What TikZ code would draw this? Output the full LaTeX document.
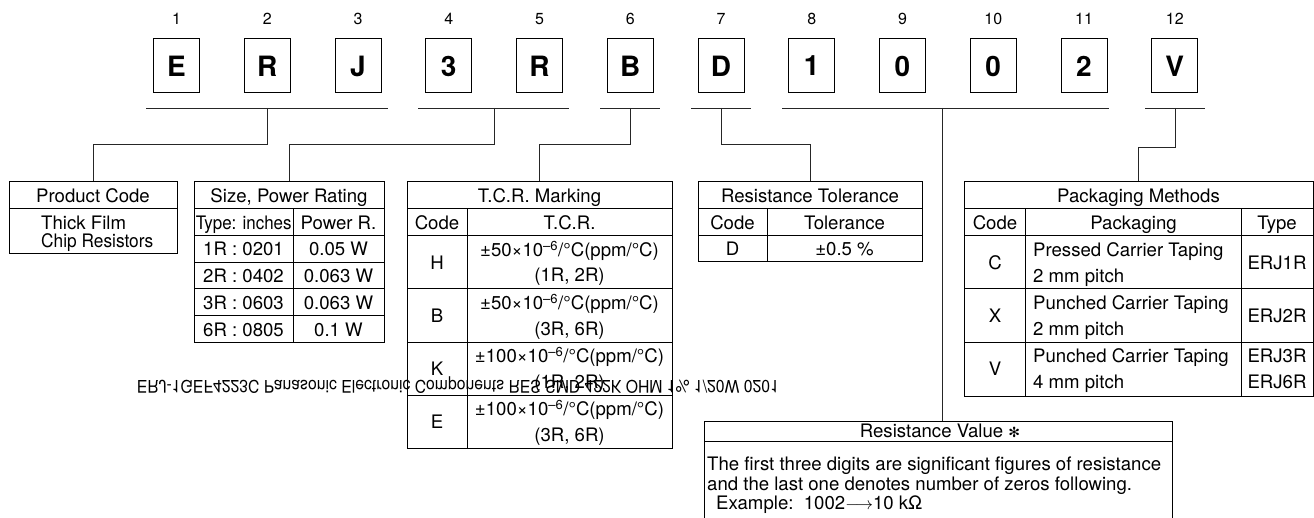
\documentclass[tikz,border=0pt]{standalone}
\usepackage{fontspec}
\setmainfont{TeX Gyre Heros}
\newfontfamily\symfont{DejaVu Sans}
\begin{document}
\begin{tikzpicture}[x=1pt,y=-1pt,
  num/.style={font=\fontsize{16}{18}\selectfont, inner sep=0pt},
  digit/.style={draw, line width=1pt, minimum width=46pt, minimum height=54pt, inner sep=0pt, font=\fontsize{28}{30}\selectfont\bfseries},
  conn/.style={line width=0.8pt, draw=black!85},
  frame/.style={draw, line width=1pt, inner sep=0pt},
  tline/.style={line width=1pt},
  cell/.style={font=\fontsize{18.6}{20}\selectfont, inner sep=0pt, text height=13.3pt, text depth=0pt},
  lcell/.style={cell, anchor=west},
  mirror/.style={font=\fontsize{17}{20}\selectfont, inner sep=0pt}
]
\useasboundingbox (0,0) rectangle (1314,518);
\clip (0,0) rectangle (1314,518);

% code letters
\foreach \i/\c in {1/E,2/R,3/J,4/3,5/R,6/B,7/D,8/1,9/0,10/0,11/2,12/V} {
  \node[num] (n\i) at ({176.5+90.75*(\i-1)},19) {\i};
  \node[digit] (d\i) at ({176.5+90.75*(\i-1)},66) {\c};
}

% brackets
\draw[conn] (146,108) -- (388,108);
\draw[conn] (418,108) -- (569,108);
\draw[conn] (600,108) -- (660,108);
\draw[conn] (691,108) -- (751,108);
\draw[conn] (782,108) -- (1109,108);
\draw[conn] (1145,108) -- (1205,108);
\coordinate (t1) at (267,108);
\coordinate (t2) at (494,108);
\coordinate (t3) at (630,108);
\coordinate (t4) at (721,108);
\coordinate (t5) at (942,108);
\coordinate (t6) at (1175,108);

% frames
\node[frame, minimum width=168pt, minimum height=72pt] (pc) at (93,218) {};
\node[frame, minimum width=190pt, minimum height=161pt] (sz) at (289,262.5) {};
\node[frame, minimum width=265pt, minimum height=266pt] (tcr) at (539.5,315) {};
\node[frame, minimum width=224pt, minimum height=80pt] (tol) at (810,222) {};
\node[frame, minimum width=349pt, minimum height=214pt] (pk) at (1138.5,289) {};
\node[frame, minimum width=468pt, minimum height=130pt] (rv) at (938,486) {};

% connectors
\draw[conn] (t1) -- ++(0,36) -| (pc.north);
\draw[conn] (t2) -- ++(0,36) -| (sz.north);
\draw[conn] (t3) -- ++(0,36) -| (tcr.north);
\draw[conn] (t4) -- ++(0,36) -| (tol.north);
\draw[conn] (t5) -- (t5 |- rv.north);
\draw[conn] (t6) -- ++(0,39) -| (pk.north);

% Product code
\draw[tline] (9,209) -- (177,209);
\node[cell] (pct) at (93,196) {Product Code};
\node[lcell] (pc1) at (41,222.7) {Thick Film};
\node[lcell] (pc2) at (41,240.7) {\scalebox{0.93}[1]{Chip Resistors}};

% Size table
\foreach \yy in {209,235.7,262.3,289,316} \draw[tline] (194,\yy) -- (384,\yy);
\draw[tline] (293.3,209) -- (293.3,343);
\node[cell] (szt) at (289,196) {Size, Power Rating};
\node[cell] (szh1) at (243.7,222.5) {\scalebox{0.91}[1]{Type: inches}};
\node[cell] (szh2) at (338.5,222.5) {Power R.};
\node[cell] (sz11) at (243.5,249) {1R : 0201};
\node[cell] (sz12) at (338.5,249) {0.05 W};
\node[cell] (sz21) at (243.5,275.7) {2R : 0402};
\node[cell] (sz22) at (338.5,275.7) {0.063 W};
\node[cell] (sz31) at (243.5,302.5) {3R : 0603};
\node[cell] (sz32) at (338.5,302.5) {0.063 W};
\node[cell] (sz41) at (243.5,329.5) {6R : 0805};
\node[cell] (sz42) at (338.5,329.5) {0.1 W};

% TCR table
\foreach \yy in {209,235.7,289,342.3,395.7} \draw[tline] (407,\yy) -- (672,\yy);
\draw[tline] (467.3,209) -- (467.3,448);
\node[cell] (tct) at (539.5,196) {T.C.R. Marking};
\node[cell] (tch1) at (437,222.5) {Code};
\node[cell] (tch2) at (569.5,222.5) {T.C.R.};
\foreach \k/\c/\v/\s/\yc in {1/H/50/{1R, 2R}/262.4, 2/B/50/{3R, 6R}/315.7, 3/K/100/{1R, 2R}/369, 4/E/100/{3R, 6R}/422} {
  \node[cell] (tcc\k) at (437,\yc) {\c};
  \node[cell] (tca\k) at (569.5,\yc-12.7) {±\v×10\textsuperscript{–6}/°C(ppm/°C)};
  \node[cell] (tcb\k) at (569.5,\yc+12.7) {(\s)};
}

% Tolerance table
\foreach \yy in {209,235.7} \draw[tline] (698,\yy) -- (922,\yy);
\draw[tline] (767,209) -- (767,262);
\node[cell] (tot) at (810,196) {Resistance Tolerance};
\node[cell] (toh1) at (732.5,222.5) {Code};
\node[cell] (toh2) at (844.5,222.5) {Tolerance};
\node[cell] (tod1) at (732.5,249) {D};
\node[cell] (tod2) at (844.5,249) {±0.5 \%};

% Packaging table
\foreach \yy in {209,235.7,289,342.3} \draw[tline] (964,\yy) -- (1313,\yy);
\draw[tline] (1025.7,209) -- (1025.7,396);
\draw[tline] (1241,209) -- (1241,396);
\node[cell] (pkt) at (1138.5,196) {Packaging Methods};
\node[cell] (pkh1) at (995,222.5) {Code};
\node[cell] (pkh2) at (1133.5,222.5) {Packaging};
\node[cell] (pkh3) at (1277,222.5) {Type};
\node[cell] (pkc1) at (995,262.4) {C};
\node[lcell] (pka1) at (1033,250) {Pressed Carrier Taping};
\node[lcell] (pkb1) at (1033,276) {2 mm pitch};
\node[cell] (pkt1) at (1277,262.4) {ERJ1R};
\node[cell] (pkc2) at (995,315.7) {X};
\node[lcell] (pka2) at (1033,303) {Punched Carrier Taping};
\node[lcell] (pkb2) at (1033,329) {2 mm pitch};
\node[cell] (pkt2) at (1277,315.7) {ERJ2R};
\node[cell] (pkc3) at (995,369) {V};
\node[lcell] (pka3) at (1033,356) {Punched Carrier Taping};
\node[lcell] (pkb3) at (1033,382) {4 mm pitch};
\node[cell] (pkt3a) at (1277,356) {ERJ3R};
\node[cell] (pkt3b) at (1277,382) {ERJ6R};

% Resistance value box
\draw[tline] (704,441) -- (1172,441);
\node[cell] (rvt) at (940,431) {Resistance Value {\symfont\fontsize{14}{16}\selectfont ✻}};
\node[lcell] (rv1) at (707,464) {The first three digits are significant figures of resistance};
\node[lcell] (rv2) at (707,484) {and the last one denotes number of zeros following.};
\node[lcell] (rv3) at (716,503) {Example:\ \ 1002\ensuremath{\longrightarrow}10 kΩ};

% mirrored stray text
\node[mirror] (mir) at (458,385) {\scalebox{1}[-1]{\resizebox{642pt}{13pt}{ERJ-1GEF4223C Panasonic Electronic Components RES SMD 422K OHM 1\% 1/20W 0201}}};
\end{tikzpicture}
\end{document}
